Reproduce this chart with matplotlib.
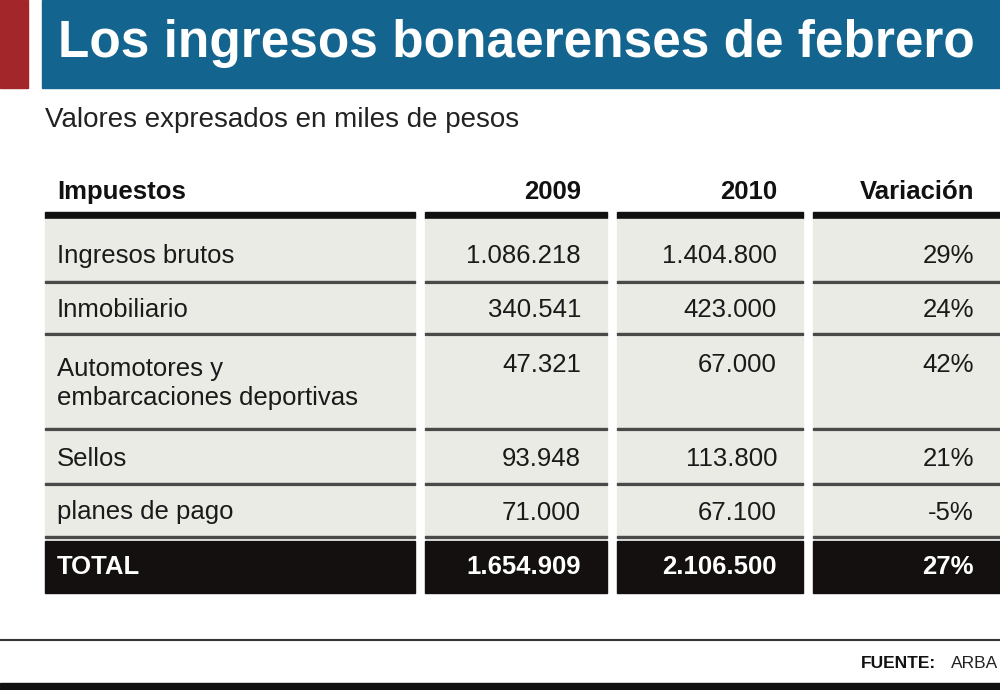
import matplotlib.pyplot as plt
from matplotlib.patches import Rectangle

# ---------------------------------------------------------------------------
# Data
# ---------------------------------------------------------------------------
TITLE = "Los ingresos bonaerenses de febrero"
SUBTITLE = "Valores expresados en miles de pesos"
HEADERS = ["Impuestos", "2009", "2010", "Variación"]
TAXES = ["Ingresos brutos", "Inmobiliario",
         "Automotores y\nembarcaciones deportivas", "Sellos", "planes de pago"]
VALUES_2009 = ["1.086.218", "340.541", "47.321", "93.948", "71.000"]
VALUES_2010 = ["1.404.800", "423.000", "67.000", "113.800", "67.100"]
VARIATION = ["29%", "24%", "42%", "21%", "-5%"]
TOTAL = ["TOTAL", "1.654.909", "2.106.500", "27%"]
SOURCE_BOLD = "FUENTE:"
SOURCE = "ARBA"

# colours
C_BLUE = "#13658f"
C_RED = "#a3262a"
C_ROW = "#ebebe5"
C_SEP = "#4a4a4a"
C_DARK = "#151010"

plt.rcParams["font.family"] = ["Liberation Sans", "DejaVu Sans"]

fig = plt.figure(figsize=(10, 6.9), dpi=100)
ax = fig.add_axes([0, 0, 1, 1])
ax.set_xlim(0, 1000)
ax.set_ylim(690, 0)
ax.axis("off")

FS = 18.5

# header band
ax.add_patch(Rectangle((0, 0), 28, 88, color=C_RED))
ax.add_patch(Rectangle((42, 0), 958, 88, color=C_BLUE))
ax.text(58, 44, TITLE, color="white", fontsize=37, fontweight="bold",
        va="center", ha="left")
ax.text(45, 120, SUBTITLE, color="#222222", fontsize=20, va="center")

# column extents
cols = [(45, 415), (425, 607), (617, 803), (813, 1000)]
pad = 12

# table header
for i, (x0, x1) in enumerate(cols):
    ax.add_patch(Rectangle((x0, 212), x1 - x0, 6, color="#111111"))
    if i == 0:
        ax.text(x0 + pad, 192, HEADERS[i], fontsize=FS, fontweight="bold",
                va="center", ha="left", color="#111111")
    else:
        ax.text(x1 - 26, 192, HEADERS[i], fontsize=FS,
                fontweight="bold", va="center", ha="right", color="#111111")

# body rows
rows = [(219, 283), (285, 335), (337, 430), (432, 485), (487, 538)]
for r, (y0, y1) in enumerate(rows):
    cells = [TAXES[r], VALUES_2009[r], VALUES_2010[r], VARIATION[r]]
    ytxt = 256 if r == 0 else (y0 + 28 if r == 2 else (y0 + y1) / 2)
    for i, (x0, x1) in enumerate(cols):
        ax.add_patch(Rectangle((x0, y0), x1 - x0, y1 - y0, color=C_ROW))
        ax.add_patch(Rectangle((x0, y1 - 2), x1 - x0, 2, color=C_SEP))
        if i == 0:
            ax.text(x0 + pad, (y0 + y1) / 2 if r != 0 else 256, cells[i],
                    fontsize=FS, va="center", ha="left", color="#1a1a1a",
                    linespacing=1.3)
        else:
            ax.text(x1 - 26, ytxt, cells[i], fontsize=FS, va="center",
                    ha="right", color="#1a1a1a")

# total row
for i, (x0, x1) in enumerate(cols):
    ax.add_patch(Rectangle((x0, 541), x1 - x0, 52, color=C_DARK))
    if i == 0:
        ax.text(x0 + pad, 567, TOTAL[i], fontsize=FS, fontweight="bold",
                va="center", ha="left", color="white")
    else:
        ax.text(x1 - 26, 567, TOTAL[i], fontsize=FS, fontweight="bold",
                va="center", ha="right", color="white")

# footer
ax.plot([0, 1000], [640, 640], color="#333333", lw=1.5)
ax.text(998, 663, SOURCE, fontsize=12.5, va="center", ha="right", color="#222222")
ax.text(936, 663, SOURCE_BOLD, fontsize=12.5, fontweight="bold", va="center",
        ha="right", color="#111111")
ax.add_patch(Rectangle((0, 683), 1000, 7, color="#111111"))

fig.savefig("out.png", dpi=100)
